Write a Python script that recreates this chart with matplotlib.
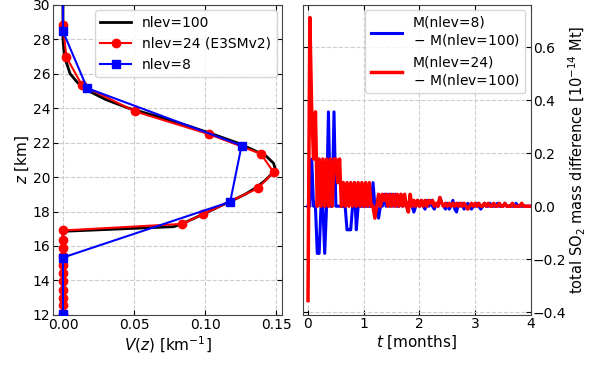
import numpy as np
import matplotlib
matplotlib.use("Agg")
from matplotlib import pyplot as plt

# ---- left panel: vertical profiles V(z)
z_100 = [12.0, 16.85, 17.12, 17.3, 17.6, 17.9, 18.3, 18.6, 19.0, 19.4, 19.8, 20.2, 20.5,
         20.8, 21.2, 21.6, 22.0, 22.5, 23.0, 23.5, 24.0, 24.5, 25.0, 25.5, 26.0, 26.5,
         27.0, 28.0, 30.0]
v_100 = [0.0, 0.0, 0.078, 0.084, 0.092, 0.100, 0.110, 0.118, 0.128, 0.136, 0.142, 0.147,
         0.149, 0.148, 0.143, 0.133, 0.122, 0.105, 0.087, 0.067, 0.046, 0.030, 0.018,
         0.010, 0.005, 0.003, 0.001, 0.0, 0.0]

z_24 = [12.08, 12.56, 13.0, 13.45, 13.94, 14.42, 14.9, 15.39, 15.87, 16.35, 16.9, 17.28,
        17.85, 19.35, 20.28, 21.35, 22.49, 23.81, 25.32, 26.96, 28.84, 30.8]
v_24 = [0.0, 0.0, 0.0, 0.0, 0.0, 0.0, 0.0, 0.0, 0.0, 0.0, 0.0, 0.0837,
        0.0986, 0.137, 0.148, 0.139, 0.1026, 0.0507, 0.0134, 0.0024, 0.0, 0.0]

z_8 = [12.04, 15.33, 18.56, 21.83, 25.16, 28.45, 31.7]
v_8 = [0.0, 0.0, 0.1175, 0.1255, 0.017, 0.0, 0.0]

# ---- right panel: daily total SO2 mass differences (units of 1e-14 Mt)
days = np.arange(121)
dm_8 = [0.0, 0.0, 0.178, 0.0, 0.0, -0.178, -0.178, 0.0, 0.0, -0.178,
        0.0, 0.356, 0.0, 0.0, 0.356, 0.0, 0.0, 0.0, 0.0, 0.0,
        0.0, -0.089, -0.089, -0.089, 0.0, 0.089, -0.089, 0.0, 0.0, 0.0,
        0.0, 0.0, 0.0, 0.0, 0.0, 0.089, 0.0, 0.0, -0.045, 0.0,
        0.0, 0.045, 0.0, 0.045, 0.0, 0.045, 0.0, 0.045, 0.0, 0.0,
        0.045, 0.0, 0.022, 0.0, 0.0, 0.022, 0.0, -0.022, 0.0, 0.022,
        0.0, 0.022, 0.0, -0.011, 0.022, 0.0, 0.022, 0.0, -0.011, 0.011,
        0.0, 0.033, 0.011, 0.0, -0.011, 0.011, -0.011, 0.0, 0.022, -0.011,
        -0.022, 0.011, 0.0, 0.011, -0.011, 0.0, 0.011, 0.0, -0.011, 0.0,
        0.0, 0.011, 0.0, -0.011, 0.0, 0.011, 0.0, 0.0, 0.011, 0.0,
        0.0, 0.0, 0.011, 0.0, 0.0, 0.0, 0.011, 0.0, 0.0, 0.0,
        0.0, 0.0, 0.011, 0.0, 0.0, 0.0, 0.0, 0.0, 0.0, 0.0, 0.0]
dm_24 = [-0.356, 0.712, 0.356, 0.178, 0.356, 0.0, 0.178, 0.0, 0.178, 0.0,
         0.178, 0.0, 0.178, 0.0, 0.178, 0.178, 0.089, 0.178, 0.0, 0.089,
         0.0, 0.089, 0.0, 0.089, 0.0, 0.089, 0.0, 0.089, 0.0, 0.089,
         0.0, 0.089, 0.0, 0.089, 0.0, 0.0, -0.045, 0.0, 0.045, 0.0,
         0.045, 0.022, 0.045, 0.0, 0.045, 0.0, 0.045, 0.0, 0.045, 0.0,
         0.045, 0.0, 0.045, 0.0, -0.022, 0.045, 0.0, 0.022, 0.0, 0.022,
         0.0, 0.022, 0.0, 0.022, 0.0, 0.022, 0.011, 0.022, 0.0, 0.011,
         0.0, 0.033, 0.011, 0.0, 0.011, 0.0, 0.011, 0.0, 0.011, 0.0,
         0.011, 0.0, 0.011, 0.0, 0.011, 0.0, -0.011, 0.0, 0.011, 0.0,
         0.011, 0.0, 0.011, 0.0, 0.0, 0.011, 0.0, 0.011, 0.0, 0.0,
         0.011, 0.0, 0.0, 0.011, 0.0, 0.0, 0.011, 0.0, 0.0, 0.0,
         0.011, 0.0, 0.0, 0.0, 0.0, 0.011, 0.0, 0.0, 0.0, 0.0, 0.0]
t_months = days / 30.0

plt.rcParams['font.size'] = 10
plt.rcParams['axes.edgecolor'] = '#444444'

fig = plt.figure(figsize=(5.89, 3.67), dpi=100)
ax1 = fig.add_axes([0.090, 0.142, 0.389, 0.845])
ax2 = fig.add_axes([0.5144, 0.142, 0.387, 0.845])

grid_kw = dict(color='#cccccc', linestyle='--', linewidth=0.8)

ax1.plot(v_100, z_100, color='black', lw=2, label='nlev=100', zorder=3)
ax1.plot(v_24, z_24, color='red', lw=1.5, marker='o', ms=6, label='nlev=24 (E3SMv2)', zorder=4)
ax1.plot(v_8, z_8, color='blue', lw=1.5, marker='s', ms=6, label='nlev=8', zorder=5)
ax1.set_xlim(-0.007, 0.154)
ax1.set_ylim(12, 30)
ax1.set_xticks([0.0, 0.05, 0.10, 0.15])
ax1.set_xticklabels(['0.00', '0.05', '0.10', '0.15'])
ax1.set_yticks(range(12, 31, 2))
ax1.set_xlabel(r'$V(z)$ [km$^{-1}$]', fontsize=11, labelpad=2)
ax1.set_ylabel(r'$z$ [km]', fontsize=11, labelpad=1)
ax1.grid(True, **grid_kw)
ax1.tick_params(direction='in', top=True, right=True, pad=2)
ax1.legend(loc='upper right', fontsize=10, handlelength=2.2, borderaxespad=0.4)

ax2.plot(t_months, dm_8, color='blue', lw=2.2, label='M(nlev=8)\n$-$ M(nlev=100)')
ax2.plot(t_months, dm_24, color='red', lw=2.5, label='M(nlev=24)\n$-$ M(nlev=100)')
ax2.set_xlim(-0.09, 4)
ax2.set_ylim(-0.41, 0.76)
ax2.set_xticks([0, 1, 2, 3, 4])
ax2.set_yticks([-0.4, -0.2, 0.0, 0.2, 0.4, 0.6])
ax2.yaxis.tick_right()
ax2.yaxis.set_label_position('right')
ax2.set_xlabel(r'$t$ [months]', fontsize=11, labelpad=2)
ax2.set_ylabel(r'total SO$_2$ mass difference [10$^{-14}$ Mt]', fontsize=10.5, labelpad=0)
ax2.grid(True, **grid_kw)
ax2.tick_params(direction='in', top=True, left=True, right=True, pad=1.5)
ax2.legend(loc='upper right', fontsize=10, handlelength=2.2, borderaxespad=0.4)

fig.savefig('out.png', dpi=100)
